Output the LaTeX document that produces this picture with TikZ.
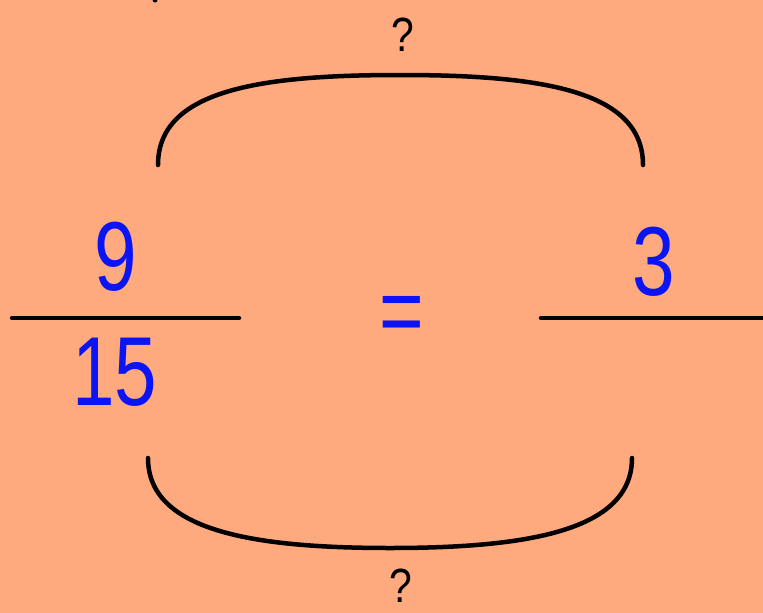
\documentclass[tikz,border=0pt]{standalone}
\usepackage{fontspec}
\setmainfont{Liberation Sans}
\definecolor{bg}{HTML}{FFA97F}
\definecolor{numblue}{HTML}{0A14F5}
\newcommand{\narrow}[1]{\scalebox{0.78}[1]{#1}}
\begin{document}
\begin{tikzpicture}[x=1pt,y=-1pt,
  num/.style={text=numblue,inner sep=0pt,font=\fontsize{98}{98}\selectfont},
  qmark/.style={text=black,inner sep=0pt,font=\fontsize{48}{48}\selectfont},
  stroke/.style={line width=4.5pt,line cap=round,black}]
\fill[bg] (0,0) rectangle (763,613);
\useasboundingbox (0,0) rectangle (763,613);
% numbers
\node[num] (nine) at (116,257) {\narrow{9}};
\node[num] (fifteen) at (115,372) {\narrow{15}};
\node[num] (three) at (654,262) {\narrow{3}};
\node[num] (eq) at (402,320) {\narrow{=}};
% question marks
\node[qmark] (qtop) at (403,35) {\scalebox{0.85}[1]{?}};
\node[qmark] (qbot) at (401,586) {\scalebox{0.85}[1]{?}};
% fraction lines
\draw[stroke] (12,318) -- (239,318);
\draw[stroke] (541,318) -- (770,318);
% arcs
\draw[stroke] (158,165) .. controls (158,90) and (260,75) .. (400,75)
  .. controls (540,75) and (643,90) .. (643,165);
\draw[stroke] (148,458) .. controls (148,530) and (250,548) .. (390,548)
  .. controls (530,548) and (632,530) .. (632,458);
% small clipped mark at top
\fill[black] (155,0) circle (2.5pt);
\end{tikzpicture}
\end{document}
